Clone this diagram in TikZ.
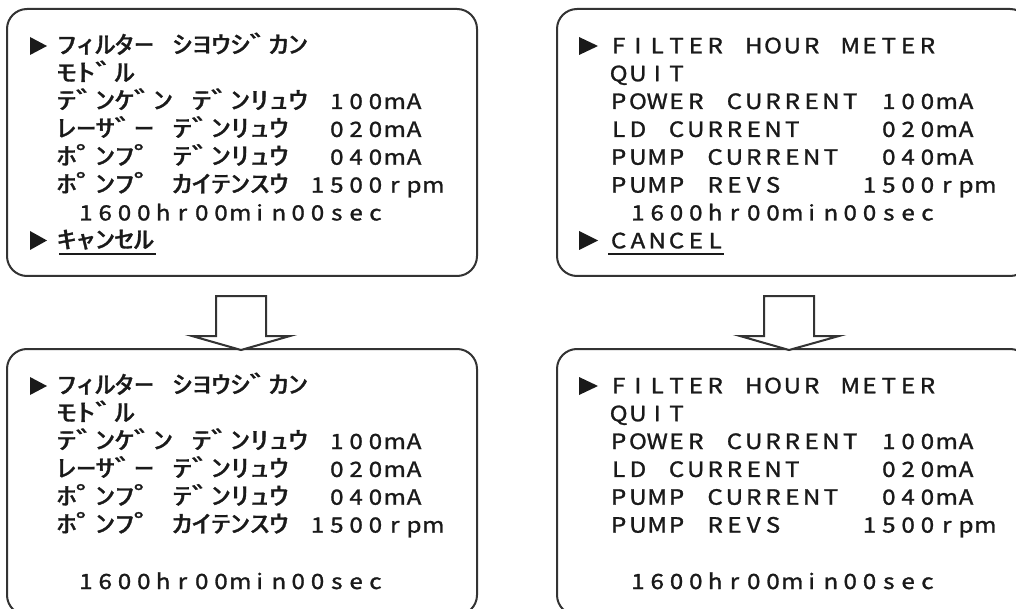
\documentclass[tikz,border=0pt]{standalone}
\usepackage{fontspec}
\setmainfont{Noto Sans CJK JP}
\newfontfamily\kanafont[Scale=1.15,FakeStretch=1.7,FakeBold=1.3]{Noto Sans CJK JP}
\newfontfamily\latinfont[FakeStretch=1.15,FakeBold=1.3]{Noto Sans CJK JP}
\newlength\cellpitch
\setlength\cellpitch{19.3pt}
\def\monoglyph#1{\ifx#1~\else\ifnum`#1>"FF60 {\kanafont#1}\else{\latinfont#1}\fi\fi}
\def\monostep#1{\ifx#1\relax\else\makebox[\cellpitch][c]{\monoglyph{#1}}\expandafter\monostep\fi}
\def\monotext#1{\monostep#1\relax}
\definecolor{ink}{HTML}{1A1A1A}
\definecolor{frame}{HTML}{333333}
\tikzset{
  screen/.style={draw=frame, line width=2pt, rounded corners=20pt, fill=none, inner sep=0pt},
  row/.style={anchor=base west, inner sep=0pt, outer sep=0pt, text=ink, font=\fontsize{21pt}{24pt}\selectfont},
  pointer/.style={fill=ink, draw=none},
  blockarrow/.style={draw=frame, line width=2pt, fill=white, line join=miter},
  uline/.style={draw=ink, line width=2pt}
}
\begin{document}
\begin{tikzpicture}[x=1pt,y=-1pt]
\useasboundingbox (0,0) rectangle (1016,609);
\fill[white] (0,0) rectangle (1016,609);
\clip (0,0) rectangle (1016,609);
% screens
\draw[screen] (7,9) rectangle (477,276);
\draw[screen] (557,9) rectangle (1030,276);
\draw[screen] (7,349) rectangle (477,615);
\draw[screen] (557,349) rectangle (1030,615);
% block arrows
\draw[blockarrow] (216,296) -- (266,296) -- (266,336) -- (290,336) -- (241,350) -- (192,336) -- (216,336) -- cycle;
\draw[blockarrow] (764,296) -- (814,296) -- (814,336) -- (839,336) -- (789,350) -- (740,336) -- (764,336) -- cycle;
% ---------- top left ----------
\fill[pointer] (30,37) -- (47,46) -- (30,55) -- cycle;
\node[row] (a1) at (57,53.3) {\monotext{ﾌｨﾙﾀｰ~ｼﾖｳｼﾞｶﾝ}};
\node[row] (a2) at (57,81.2) {\monotext{ﾓﾄﾞﾙ}};
\node[row] (a3) at (57,109.0) {\monotext{ﾃﾞﾝｹﾞﾝ~ﾃﾞﾝﾘｭｳ~100mA}};
\node[row] (a4) at (57,136.9) {\monotext{ﾚｰｻﾞｰ~ﾃﾞﾝﾘｭｳ~~020mA}};
\node[row] (a5) at (57,164.7) {\monotext{ﾎﾟﾝﾌﾟ~ﾃﾞﾝﾘｭｳ~~040mA}};
\node[row] (a6) at (57,192.6) {\monotext{ﾎﾟﾝﾌﾟ~ｶｲﾃﾝｽｳ~1500rpm}};
\node[row] (a7) at (57,220.4) {\monotext{~1600hr00min00sec}};
\fill[pointer] (30,231) -- (47,240.5) -- (30,250) -- cycle;
\node[row] (a8) at (57,248.3) {\monotext{ｷｬﾝｾﾙ}};
\draw[uline] (59,254) -- (156,254);
% ---------- top right ----------
\fill[pointer] (579,37) -- (598,46) -- (579,55) -- cycle;
\node[row] (b1) at (609,53.3) {\monotext{FILTER~HOUR~METER}};
\node[row] (b2) at (609,81.2) {\monotext{QUIT}};
\node[row] (b3) at (609,109.0) {\monotext{POWER~CURRENT~100mA}};
\node[row] (b4) at (609,136.9) {\monotext{LD~CURRENT~~~~020mA}};
\node[row] (b5) at (609,164.7) {\monotext{PUMP~CURRENT~~040mA}};
\node[row] (b6) at (609,192.6) {\monotext{PUMP~REVS~~~~1500rpm}};
\node[row] (b7) at (609,220.4) {\monotext{~1600hr00min00sec}};
\fill[pointer] (579,231) -- (598,240.5) -- (579,250) -- cycle;
\node[row] (b8) at (609,248.3) {\monotext{CANCEL}};
\draw[uline] (608,254) -- (724,254);
% ---------- bottom left ----------
\fill[pointer] (30,377) -- (47,386) -- (30,395) -- cycle;
\node[row] (c1) at (57,393.3) {\monotext{ﾌｨﾙﾀｰ~ｼﾖｳｼﾞｶﾝ}};
\node[row] (c2) at (57,421.2) {\monotext{ﾓﾄﾞﾙ}};
\node[row] (c3) at (57,449.0) {\monotext{ﾃﾞﾝｹﾞﾝ~ﾃﾞﾝﾘｭｳ~100mA}};
\node[row] (c4) at (57,476.9) {\monotext{ﾚｰｻﾞｰ~ﾃﾞﾝﾘｭｳ~~020mA}};
\node[row] (c5) at (57,504.7) {\monotext{ﾎﾟﾝﾌﾟ~ﾃﾞﾝﾘｭｳ~~040mA}};
\node[row] (c6) at (57,532.6) {\monotext{ﾎﾟﾝﾌﾟ~ｶｲﾃﾝｽｳ~1500rpm}};
\node[row] (c7) at (57,589.0) {\monotext{~1600hr00min00sec}};
% ---------- bottom right ----------
\fill[pointer] (579,377) -- (598,386) -- (579,395) -- cycle;
\node[row] (d1) at (609,393.3) {\monotext{FILTER~HOUR~METER}};
\node[row] (d2) at (609,421.2) {\monotext{QUIT}};
\node[row] (d3) at (609,449.0) {\monotext{POWER~CURRENT~100mA}};
\node[row] (d4) at (609,476.9) {\monotext{LD~CURRENT~~~~020mA}};
\node[row] (d5) at (609,504.7) {\monotext{PUMP~CURRENT~~040mA}};
\node[row] (d6) at (609,532.6) {\monotext{PUMP~REVS~~~~1500rpm}};
\node[row] (d7) at (609,589.0) {\monotext{~1600hr00min00sec}};
\end{tikzpicture}
\end{document}
